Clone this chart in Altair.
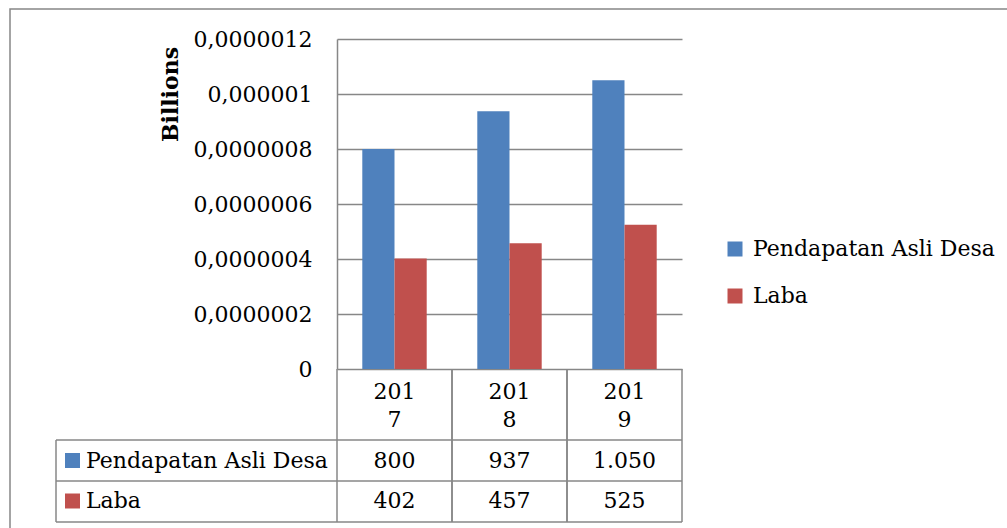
import altair as alt
import pandas as pd

years = ["2017", "2018", "2019"]
series = ["Pendapatan Asli Desa", "Laba"]
pad_values = [800, 937, 1050]
laba_values = [402, 457, 525]
colors = ["#4F81BD", "#C0504D"]
y_ticks = [0, 200, 400, 600, 800, 1000, 1200]

rows = []
for i, y in enumerate(years):
    rows.append({"year": y, "series": series[0], "value": pad_values[i]})
    rows.append({"year": y, "series": series[1], "value": laba_values[i]})
df = pd.DataFrame(rows)
df_years = pd.DataFrame({"year": years})
df_series = pd.DataFrame({"series": series})

FONT = "DejaVu Serif"
GRID = "#878787"
P_IN = 0.44

xscale = alt.Scale(domain=years, paddingInner=P_IN, paddingOuter=P_IN / 2)
x_enc = alt.X("year:N", scale=xscale, axis=None)
edge_scale = alt.Scale(domain=years, paddingInner=0, paddingOuter=0)

color_enc = alt.Color(
    "series:N",
    scale=alt.Scale(domain=series, range=colors),
    legend=alt.Legend(
        title=None, orient="none", legendX=387, legendY=199,
        symbolType="square", symbolSize=225, symbolStrokeWidth=0,
        labelFont=FONT, labelFontSize=22, labelColor="black",
        labelOffset=7, rowPadding=25, labelLimit=400,
    ),
)

bars = alt.Chart(df).mark_bar().encode(
    x=x_enc,
    xOffset=alt.XOffset("series:N", scale=alt.Scale(domain=series, paddingInner=0, paddingOuter=0)),
    y=alt.Y(
        "value:Q",
        scale=alt.Scale(domain=[0, 1200], nice=False),
        axis=alt.Axis(
            values=y_ticks,
            labelExpr="replace(format(datum.value / 1e9, '.7~f'), '.', ',')",
            labelFont=FONT, labelFontSize=22, labelColor="black",
            labelPadding=25, ticks=False,
            grid=True, gridColor=GRID, gridWidth=1.5,
            domain=True, domainColor=GRID, domainWidth=1.5,
            title="Billions", titleFont=FONT, titleFontSize=22, titleFontWeight="bold",
            titleColor="black", titleAngle=270, titleX=-167, titleY=55,
            titleAlign="center", titleBaseline="middle",
        ),
    ),
    color=color_enc,
)

row_y = alt.Y("series:N", scale=alt.Scale(type="point", domain=series, range=[421.5, 462], padding=0), axis=None)

header = alt.Chart(df_years).transform_calculate(
    lab="substring(datum.year, 0, 3) + '\\n' + substring(datum.year, 3)"
).mark_text(font=FONT, fontSize=22, color="black", lineBreak="\n", lineHeight=28, baseline="middle").encode(
    x=x_enc, y=alt.value(353), text="lab:N"
)

values = alt.Chart(df).transform_calculate(
    lab="replace(format(datum.value, ','), ',', '.')"
).mark_text(font=FONT, fontSize=22, color="black", baseline="middle").encode(
    x=x_enc, y=row_y, text="lab:N"
)

row_labels = alt.Chart(df_series).mark_text(
    font=FONT, fontSize=22, color="black", baseline="middle", align="left"
).encode(x=alt.value(-251), y=row_y, text="series:N")

squares = alt.Chart(df_series).mark_square(size=225, opacity=1, strokeWidth=0).encode(
    x=alt.value(-264.5), y=row_y, color=color_enc
)

one = alt.Data(values=[{}])
layers = [bars, header, values, row_labels, squares]

for yy in [401, 442, 483]:
    layers.append(alt.Chart(one).mark_rule(color=GRID, strokeWidth=1.5).encode(
        x=alt.value(-281), x2=alt.value(345), y=alt.value(yy)))

layers.append(alt.Chart(df_years).mark_rule(color=GRID, strokeWidth=1.5).encode(
    x=alt.X("year:N", scale=edge_scale, axis=None, bandPosition=0), y=alt.value(330), y2=alt.value(483)))
layers.append(alt.Chart(df_years).mark_rule(color=GRID, strokeWidth=1.5).encode(
    x=alt.X("year:N", scale=edge_scale, axis=None, bandPosition=1), y=alt.value(330), y2=alt.value(483)))
layers.append(alt.Chart(one).mark_rule(color=GRID, strokeWidth=1.5).encode(
    x=alt.value(-281), y=alt.value(401), y2=alt.value(483)))
layers.append(alt.Chart(one).mark_rect(filled=False, stroke=GRID, strokeWidth=1.5).encode(
    x=alt.value(-327), x2=alt.value(700), y=alt.value(-30), y2=alt.value(510)))

chart = alt.layer(*layers).resolve_scale(y="independent", x="independent").properties(
    width=345, height=330,
    padding={"left": 337, "top": 39, "right": 325, "bottom": 159},
    autosize=alt.AutoSizeParams(type="none"),
    background="white",
).configure_view(stroke=None)

chart.save("out.html", embed_options={"renderer": "svg", "actions": False})
